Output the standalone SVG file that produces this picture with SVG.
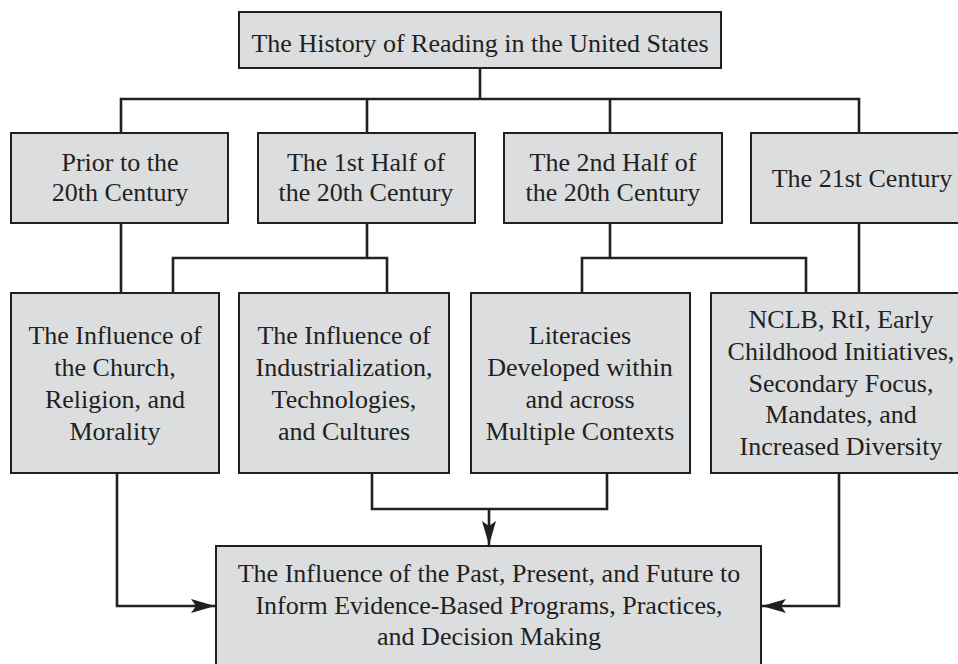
<svg xmlns="http://www.w3.org/2000/svg" width="958" height="664" viewBox="0 0 958 664">
  <style>
    .box { fill: #dcdddf; stroke: #231f20; stroke-width: 2; }
    .lbl { font-family: "Liberation Serif", "Times New Roman", serif; font-size: 26px; fill: #231f20; text-anchor: middle; }
    .wire { fill: none; stroke: #231f20; stroke-width: 2.6; stroke-linejoin: miter; stroke-linecap: square; }
    .end { stroke-linecap: butt; }
  </style>
  <defs>
    <marker id="arrow" viewBox="0 0 24 14" refX="24" refY="7" markerWidth="24" markerHeight="14" markerUnits="userSpaceOnUse" orient="auto">
      <path d="M0,0 L24,7 L0,14 L5,7 Z" fill="#231f20"/>
    </marker>
  </defs>
  <rect width="958" height="664" fill="#ffffff"/>

  <!-- connectors -->
  <g id="connectors">
    <path class="wire" d="M480,68 V99 M121,99 H859 M121,99 V133 M367,99 V133 M610,99 V133 M859,99 V133"/>
    <path class="wire" d="M121,223 V293"/>
    <path class="wire" d="M367,223 V258 M173,293 V258 H387 V293"/>
    <path class="wire" d="M610,223 V258 M582,293 V258 H806 V293"/>
    <path class="wire" d="M859,223 V293"/>
    <path class="wire" d="M372,473 V509 H607 V473"/>
    <path class="wire end" d="M489,509 V545" marker-end="url(#arrow)"/>
    <path class="wire end" d="M117,473 V606 H215" marker-end="url(#arrow)"/>
    <path class="wire end" d="M839,473 V606 H762" marker-end="url(#arrow)"/>
  </g>

  <!-- root -->
  <g id="node-root">
    <rect class="box" x="239" y="12" width="482" height="56"/>
    <text class="lbl" x="480" y="52">The History of Reading in the United States</text>
  </g>

  <!-- eras -->
  <g id="node-prior">
    <rect class="box" x="11" y="133" width="217" height="90"/>
    <text class="lbl" x="120" y="171">Prior to the</text>
    <text class="lbl" x="120" y="201">20th Century</text>
  </g>
  <g id="node-first-half">
    <rect class="box" x="258" y="133" width="217" height="90"/>
    <text class="lbl" x="366" y="171">The 1st Half of</text>
    <text class="lbl" x="366" y="201">the 20th Century</text>
  </g>
  <g id="node-second-half">
    <rect class="box" x="504" y="133" width="218" height="90"/>
    <text class="lbl" x="613" y="171">The 2nd Half of</text>
    <text class="lbl" x="613" y="201">the 20th Century</text>
  </g>
  <g id="node-21st">
    <rect class="box" x="751" y="133" width="222" height="90"/>
    <text class="lbl" x="862" y="187">The 21st Century</text>
  </g>

  <!-- influences -->
  <g id="node-church">
    <rect class="box" x="11" y="293" width="208" height="180"/>
    <text class="lbl" x="115" y="344">The Influence of</text>
    <text class="lbl" x="115" y="376">the Church,</text>
    <text class="lbl" x="115" y="408">Religion, and</text>
    <text class="lbl" x="115" y="440">Morality</text>
  </g>
  <g id="node-industry">
    <rect class="box" x="239" y="293" width="210" height="180"/>
    <text class="lbl" x="344" y="344">The Influence of</text>
    <text class="lbl" x="344" y="376">Industrialization,</text>
    <text class="lbl" x="344" y="408">Technologies,</text>
    <text class="lbl" x="344" y="440">and Cultures</text>
  </g>
  <g id="node-literacies">
    <rect class="box" x="471" y="293" width="219" height="180"/>
    <text class="lbl" x="580" y="344">Literacies</text>
    <text class="lbl" x="580" y="376">Developed within</text>
    <text class="lbl" x="580" y="408">and across</text>
    <text class="lbl" x="580" y="440">Multiple Contexts</text>
  </g>
  <g id="node-nclb">
    <rect class="box" x="711" y="293" width="262" height="180"/>
    <text class="lbl" x="841" y="328">NCLB, RtI, Early</text>
    <text class="lbl" x="841" y="360">Childhood Initiatives,</text>
    <text class="lbl" x="841" y="392">Secondary Focus,</text>
    <text class="lbl" x="841" y="423">Mandates, and</text>
    <text class="lbl" x="841" y="455">Increased Diversity</text>
  </g>

  <!-- outcome -->
  <g id="node-outcome">
    <rect class="box" x="216" y="546" width="545" height="140"/>
    <text class="lbl" x="489" y="582">The Influence of the Past, Present, and Future to</text>
    <text class="lbl" x="489" y="614">Inform Evidence-Based Programs, Practices,</text>
    <text class="lbl" x="489" y="645">and Decision Making</text>
  </g>
</svg>
